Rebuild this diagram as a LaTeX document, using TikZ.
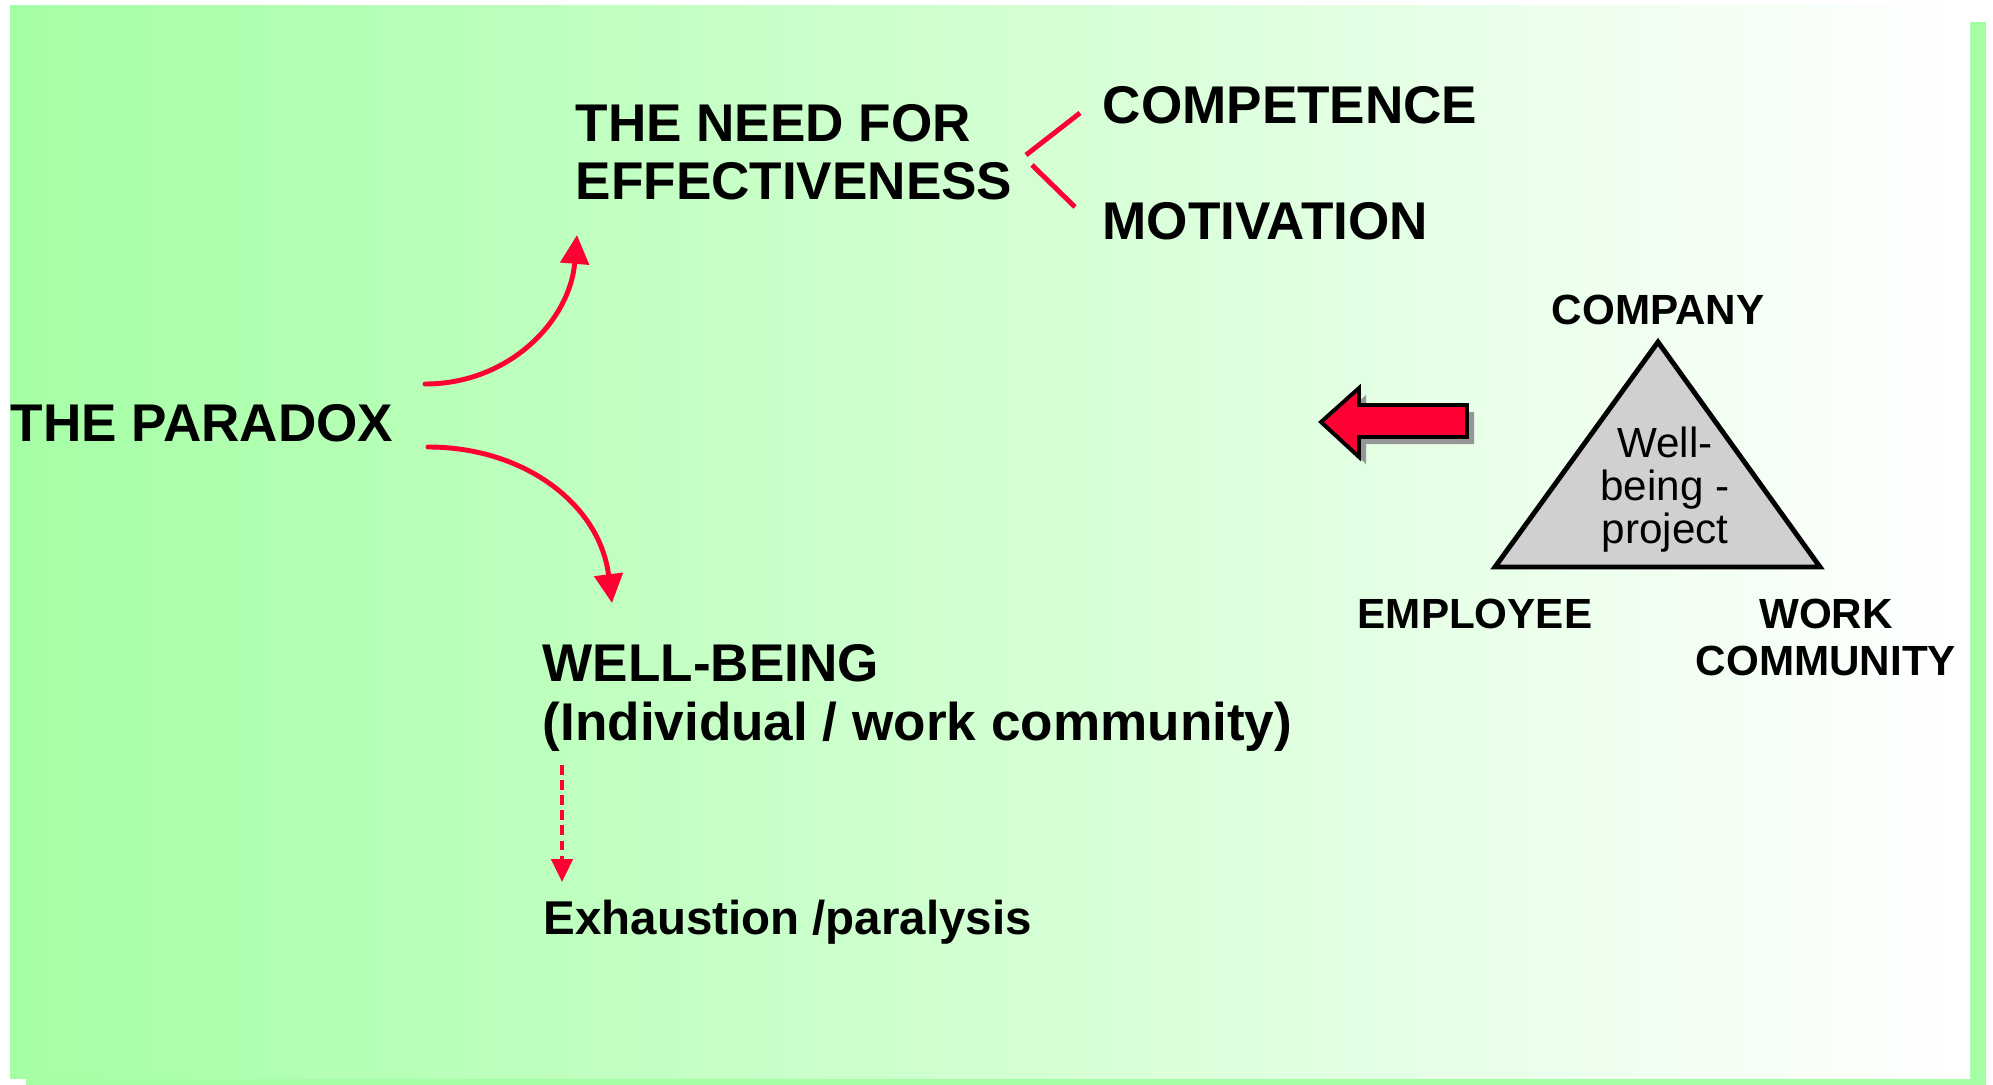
\documentclass[tikz,border=0pt]{standalone}
\usepackage{fontspec}
\setmainfont{Liberation Sans}
\usetikzlibrary{arrows.meta}
\definecolor{bggreen}{RGB}{165,255,165}
\definecolor{redline}{RGB}{255,0,51}
\definecolor{trigray}{RGB}{208,208,208}
\definecolor{shadowgray}{RGB}{150,150,150}
\begin{document}
\begin{tikzpicture}[x=0.01cm,y=-0.01cm,
  bigtxt/.style={font=\bfseries\fontsize{15.1}{16.5}\selectfont, inner sep=0pt, align=left, anchor=base west},
  midtxt/.style={font=\bfseries\fontsize{13.5}{15}\selectfont, inner sep=0pt, align=left, anchor=base west},
  smalltxt/.style={font=\bfseries\fontsize{12}{13.3}\selectfont, inner sep=0pt, align=center, anchor=base},
  tritxt/.style={font=\fontsize{12}{12.2}\selectfont, inner sep=0pt, align=center, anchor=base},
  redcurve/.style={draw=redline, line width=1.4pt, line cap=round, -{Triangle[length=8.2pt,width=8pt]}},
  redtick/.style={draw=redline, line width=1.4pt},
  reddash/.style={draw=redline, line width=1.1pt, dash pattern=on 2.8pt off 1.5pt, -{Triangle[length=6.5pt,width=6pt]}}
]
\useasboundingbox (0,0) rectangle (1993,1085);
% shadow and background
\fill[bggreen] (26,22) rectangle (1986,1085);
\shade[left color=bggreen, right color=white] (10,6) rectangle (1970,1078);

% texts (multi-line nodes: base = baseline of last line)
\node[bigtxt] (paradox) at (10,441) {THE PARADOX};
\node[bigtxt] (need) at (575,200) {THE NEED FOR\\EFFECTIVENESS};
\node[bigtxt] (comp) at (1102,124) {COMPETENCE};
\node[bigtxt] (motiv) at (1102,240) {MOTIVATION};
\node[bigtxt] (well) at (542,740) {WELL-BEING\\(Individual / work community)};
\node[midtxt] (exh) at (543,934) {Exhaustion /paralysis};

% connectors
\coordinate (c1s) at (425,384);
\coordinate (c1e) at (577,235);
\coordinate (c2s) at (428,447);
\coordinate (c2e) at (612,603);
\draw[redcurve] (c1s) .. controls (510,384) and (570,320) .. (c1e);
\draw[redcurve] (c2s) .. controls (525,447) and (600,505) .. (c2e);
\coordinate (t1a) at (1026,155);
\coordinate (t1b) at (1080,113);
\coordinate (t2a) at (1032,165);
\coordinate (t2b) at (1075,207);
\draw[redtick] (t1a) -- (t1b);
\draw[redtick] (t2a) -- (t2b);
\coordinate (d1) at (562,765);
\coordinate (d2) at (562,882);
\draw[reddash] (d1) -- (d2);

% big arrow with shadow
\fill[shadowgray, shift={(7,7)}] (1321,422) -- (1359,388) -- (1359,405) -- (1467,405) -- (1467,437) -- (1359,437) -- (1359,457) -- cycle;
\filldraw[fill=redline, draw=black, line width=1.1pt, line join=miter] (1321,422) -- (1359,388) -- (1359,405) -- (1467,405) -- (1467,437) -- (1359,437) -- (1359,457) -- cycle;

% triangle
\coordinate (ta) at (1658,342);
\coordinate (tb) at (1495,567);
\coordinate (tc) at (1820,567);
\filldraw[fill=trigray, draw=black, line width=1.4pt, line join=miter] (ta) -- (tb) -- (tc) -- cycle;
\node[tritxt] (wbp) at (1665,543) {Well-\\being -\\project};
\node[smalltxt] (company) at (1658,325) {COMPANY};
\node[smalltxt] (employee) at (1475,628) {EMPLOYEE};
\node[smalltxt] (workc) at (1826,675) {WORK\\COMMUNITY};
\end{tikzpicture}
\end{document}
